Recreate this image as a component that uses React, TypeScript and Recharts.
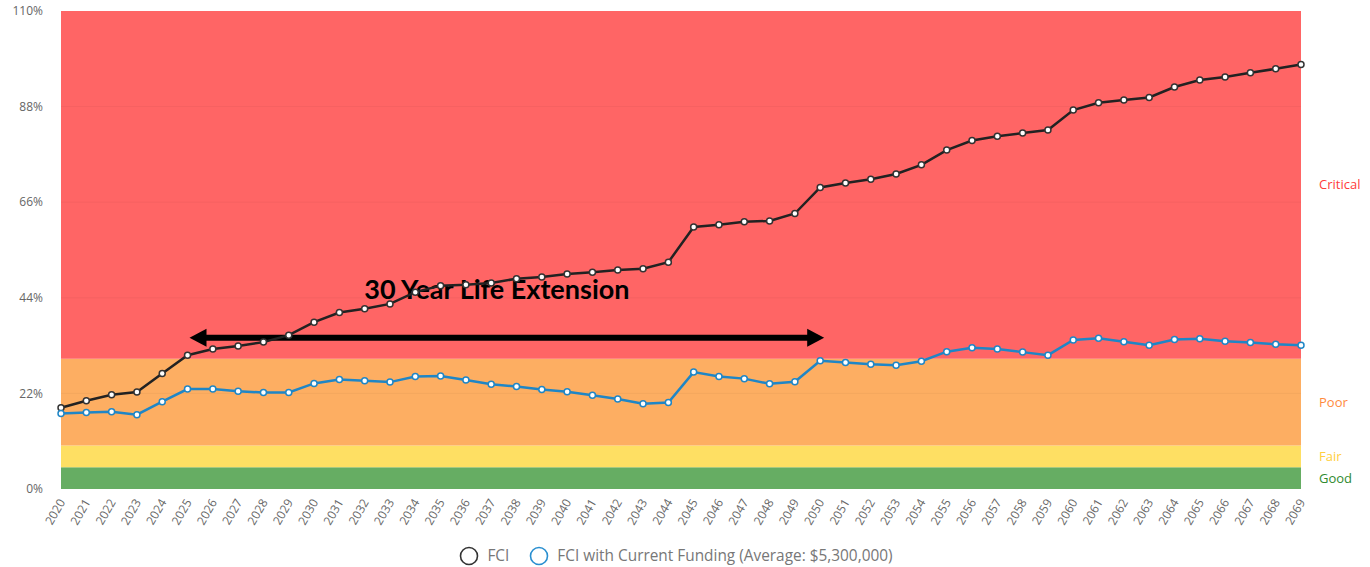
import {
  Legend,
  Line,
  LineChart,
  ReferenceArea,
  ReferenceLine,
  XAxis,
  YAxis,
} from "recharts";

const years = [
  "2020", "2021", "2022", "2023", "2024", "2025", "2026", "2027", "2028", "2029",
  "2030", "2031", "2032", "2033", "2034", "2035", "2036", "2037", "2038", "2039",
  "2040", "2041", "2042", "2043", "2044", "2045", "2046", "2047", "2048", "2049",
  "2050", "2051", "2052", "2053", "2054", "2055", "2056", "2057", "2058", "2059",
  "2060", "2061", "2062", "2063", "2064", "2065", "2066", "2067", "2068", "2069",
];

const fci = [
  18.7, 20.3, 21.7, 22.3, 26.6, 30.8, 32.2, 32.9, 33.8, 35.4,
  38.4, 40.6, 41.5, 42.6, 45.3, 46.8, 47.0, 47.4, 48.4, 48.8,
  49.5, 49.9, 50.4, 50.7, 52.2, 60.3, 60.8, 61.5, 61.7, 63.4,
  69.4, 70.4, 71.3, 72.5, 74.6, 78.0, 80.2, 81.2, 81.9, 82.6,
  87.2, 88.9, 89.5, 90.1, 92.5, 94.1, 94.8, 95.8, 96.7, 97.7,
];

const fciFunded = [
  17.4, 17.6, 17.8, 17.1, 20.1, 23.0, 23.0, 22.5, 22.2, 22.2,
  24.3, 25.2, 24.9, 24.6, 25.9, 26.0, 25.1, 24.1, 23.6, 22.9,
  22.4, 21.6, 20.7, 19.6, 19.9, 26.9, 25.9, 25.4, 24.2, 24.7,
  29.5, 29.1, 28.7, 28.5, 29.4, 31.6, 32.5, 32.2, 31.5, 30.8,
  34.3, 34.7, 33.9, 33.1, 34.4, 34.6, 34.0, 33.7, 33.3, 33.1,
];

const yTicks = [0, 22, 44, 66, 88, 110];

const bands = [
  { name: "Good", from: 0, to: 5, fill: "#66ad63", text: "#2f8a2f" },
  { name: "Fair", from: 5, to: 10, fill: "#fedf63", text: "#ffcf40" },
  { name: "Poor", from: 10, to: 30, fill: "#fdae62", text: "#ff8a3d" },
  { name: "Critical", from: 30, to: 110, fill: "#ff6565", text: "#ff3b3b" },
];

const extension = { from: "2025", to: "2050", level: 34.8, label: "30 Year Life Extension" };

const data = years.map((year, i) => ({ year, fci: fci[i], funded: fciFunded[i] }));

const FONT = "'Open Sans', sans-serif";

function YearTick({ x, y, payload }: any) {
  return (
    <text
      x={x + 1}
      y={y}
      dy="0.35em"
      transform={`rotate(-60 ${x + 1} ${y})`}
      textAnchor="end"
      fill="#666"
      fontSize={12}
      fontFamily={FONT}
    >
      {payload.value}
    </text>
  );
}

function ArrowShape(props: any) {
  const { x1, y1, x2 } = props;
  const left = x1 + 2;
  const right = x2 + 4;
  const head = 17;
  const half = 9;
  return (
    <g>
      <line x1={left + head - 2} y1={y1} x2={right - head + 2} y2={y1} stroke="#000" strokeWidth={6} />
      <polygon points={`${left},${y1} ${left + head},${y1 - half} ${left + head},${y1 + half}`} fill="#000" />
      <polygon points={`${right},${y1} ${right - head},${y1 - half} ${right - head},${y1 + half}`} fill="#000" />
      <text
        x={(x1 + x2) / 2 - 7}
        y={y1 - 39}
        textAnchor="middle"
        fontFamily="Lato, sans-serif"
        fontWeight={700}
        fontSize={27}
        fill="#000"
      >
        {extension.label}
      </text>
    </g>
  );
}

function LegendContent() {
  const items = [
    { label: "FCI", color: "#333" },
    { label: "FCI with Current Funding (Average: $5,300,000)", color: "#2a8fd0" },
  ];
  return (
    <div style={{ display: "flex", justifyContent: "center", alignItems: "center", gap: 20, paddingTop: 6, fontFamily: FONT, fontSize: 15.4, color: "#777" }}>
      {items.map((it) => (
        <div key={it.label} style={{ display: "flex", alignItems: "center", gap: 8 }}>
          <svg width={20} height={20}>
            <circle cx={10} cy={10} r={8.5} fill="none" stroke={it.color} strokeWidth={1.6} />
          </svg>
          <span>{it.label}</span>
        </div>
      ))}
    </div>
  );
}

export default function App() {
  return (
    <div style={{ position: "absolute", left: 0, top: 0, background: "#fff" }}>
      <LineChart width={1370} height={567} data={data} margin={{ top: 11, right: 69, left: 0, bottom: 0 }}>
        {bands.map((b) => (
          <ReferenceArea
            key={b.name}
            y1={b.from}
            y2={b.to}
            fill={b.fill}
            fillOpacity={1}
            stroke="none"
            label={{ value: b.name, position: "right", offset: 18, fill: b.text, fontSize: 13, fontFamily: FONT }}
          />
        ))}
        {yTicks.slice(1, -1).map((t) => (
          <ReferenceLine key={t} y={t} stroke="#000" strokeOpacity={0.04} />
        ))}
        <XAxis
          dataKey="year"
          interval={0}
          height={50}
          axisLine={false}
          tickLine={false}
          tickSize={0}
          tickMargin={11}
          tick={<YearTick />}
        />
        <YAxis
          domain={[0, 110]}
          ticks={yTicks}
          width={61}
          axisLine={false}
          tickLine={false}
          tickSize={0}
          tickMargin={18}
          tickFormatter={(v) => `${v}%`}
          tick={{ fill: "#666", fontSize: 12, fontFamily: FONT }}
        />
        <ReferenceLine
          segment={[
            { x: extension.from, y: extension.level },
            { x: extension.to, y: extension.level },
          ]}
          shape={ArrowShape}
        />
        <Line
          dataKey="fci"
          name="FCI"
          stroke="#222"
          strokeWidth={2.5}
          dot={{ r: 3, fill: "#fff", stroke: "#333", strokeWidth: 1.5 }}
          isAnimationActive={false}
        />
        <Line
          dataKey="funded"
          name="FCI with Current Funding (Average: $5,300,000)"
          stroke="#1f86c6"
          strokeWidth={2.5}
          dot={{ r: 3, fill: "#fff", stroke: "#1f86c6", strokeWidth: 1.5 }}
          isAnimationActive={false}
        />
        <Legend
          verticalAlign="bottom"
          height={28}
          wrapperStyle={{ left: 0, width: 1352 }}
          content={<LegendContent />}
        />
      </LineChart>
    </div>
  );
}
